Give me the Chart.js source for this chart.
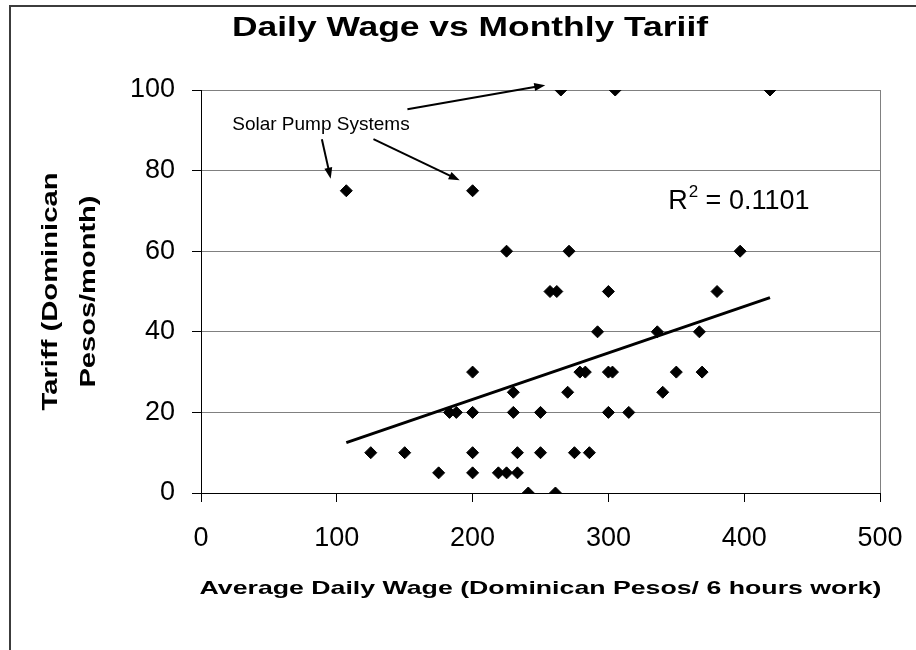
<!DOCTYPE html>
<html>
<head>
<meta charset="utf-8">
<script src="https://cdn.jsdelivr.net/npm/chart.js@4.4.1/dist/chart.umd.min.js"></script>
<style>
    html, body { margin: 0; padding: 0; background: #fff; overflow: hidden; }
    canvas { display: block; }
</style>
</head>
<body>
<canvas id="mychart" width="916" height="650"></canvas>
<script>
'use strict';

// one entry per household: average daily wage and monthly tariff (Dominican pesos)
var wages = [107, 200, 225, 200, 230, 183, 188, 200, 230, 250,
             125, 150, 200, 233, 250, 175, 200, 219, 225, 233,
             241, 261, 265, 305, 419, 271, 397, 257, 262, 300,
             380, 292, 336, 367, 279, 283, 300, 303, 350, 369,
             270, 340, 300, 315, 275, 286];
var tariffs = [75, 75, 60, 30, 25, 20, 20, 20, 20, 20,
               10, 10, 10, 10, 10, 5, 5, 5, 5, 5,
               0, 0, 100, 100, 100, 60, 60, 50, 50, 50,
               50, 40, 40, 40, 30, 30, 30, 30, 30, 30,
               25, 25, 20, 20, 10, 10];

// linear trendline ends, as drawn in the original
var trendWage = [107, 419];
var trendTariff = [12.5, 48.5];

var xTicks = [0, 100, 200, 300, 400, 500];
var yTicks = [0, 20, 40, 60, 80, 100];

var titleText = 'Daily Wage vs Monthly Tariif';
var xTitle = 'Average Daily Wage (Dominican Pesos/ 6 hours work)';
var yTitle = ['Tariff (Dominican', 'Pesos/month)'];

// callout, in data units
var noteText = 'Solar Pump Systems';
var noteAt = [23, 91.3];
var noteArrows = [[89, 87.8, 95.5, 78], [127, 87.8, 190.5, 77.6], [152, 95.2, 253.5, 101.2]];
var r2Value = '0.1101';
var r2At = [344, 72.3];

var FONT = '"Liberation Sans", Arial, sans-serif';

var points = wages.map(function(w, i) { return {x: w, y: tariffs[i]}; });
var trendline = trendWage.map(function(w, i) { return {x: w, y: trendTariff[i]}; });

// draw text centred on (cx, cy), stretched along its run to a given length
function fitText(ctx, text, cx, cy, font, len, angle) {
    ctx.save();
    ctx.font = font;
    ctx.textAlign = 'center';
    ctx.textBaseline = 'middle';
    ctx.translate(cx, cy);
    if (angle) ctx.rotate(angle);
    ctx.scale(len / ctx.measureText(text).width, 1);
    ctx.fillText(text, 0, 0);
    ctx.restore();
}

function arrow(ctx, x1, y1, x2, y2) {
    var a = Math.atan2(y2 - y1, x2 - x1);
    var c = Math.cos(a), s = Math.sin(a);
    ctx.beginPath();
    ctx.moveTo(x1, y1);
    ctx.lineTo(x2 - 8 * c, y2 - 8 * s);
    ctx.stroke();
    ctx.beginPath();
    ctx.moveTo(x2, y2);
    ctx.lineTo(x2 - 11 * c + 4 * s, y2 - 11 * s - 4 * c);
    ctx.lineTo(x2 - 11 * c - 4 * s, y2 - 11 * s + 4 * c);
    ctx.closePath();
    ctx.fill();
}

var framePlugin = {
    id: 'frame',
    beforeDraw: function(chart) {
        var ctx = chart.ctx;
        ctx.save();
        ctx.fillStyle = '#fff';
        ctx.fillRect(0, 0, chart.width, chart.height);
        ctx.strokeStyle = '#3c3c3c';
        ctx.lineWidth = 2;
        ctx.beginPath();
        ctx.moveTo(10, chart.height);
        ctx.lineTo(10, 6);
        ctx.lineTo(chart.width, 6);
        ctx.stroke();
        ctx.restore();
    }
};

var textPlugin = {
    id: 'texts',
    afterDraw: function(chart) {
        var ctx = chart.ctx;
        var xs = chart.scales.x, ys = chart.scales.y;
        var area = chart.chartArea;
        var midY = (area.top + area.bottom) / 2;
        ctx.save();
        ctx.fillStyle = '#000';
        ctx.strokeStyle = '#000';

        fitText(ctx, titleText, 470, 28, 'bold 28px ' + FONT, 476);
        fitText(ctx, xTitle, (area.left + area.right) / 2, 589, 'bold 19px ' + FONT, 682);
        fitText(ctx, yTitle[0], 51, midY, 'bold 22px ' + FONT, 238, -Math.PI / 2);
        fitText(ctx, yTitle[1], 89, midY, 'bold 22px ' + FONT, 192, -Math.PI / 2);

        ctx.font = '19px ' + FONT;
        ctx.textAlign = 'left';
        ctx.textBaseline = 'middle';
        ctx.fillText(noteText, xs.getPixelForValue(noteAt[0]), ys.getPixelForValue(noteAt[1]));

        ctx.lineWidth = 2;
        noteArrows.forEach(function(a) {
            arrow(ctx, xs.getPixelForValue(a[0]), ys.getPixelForValue(a[1]),
                  xs.getPixelForValue(a[2]), ys.getPixelForValue(a[3]));
        });

        var rx = xs.getPixelForValue(r2At[0]), ry = ys.getPixelForValue(r2At[1]);
        ctx.font = '27px ' + FONT;
        ctx.fillText('R', rx, ry);
        var rw = ctx.measureText('R').width;
        ctx.font = '17px ' + FONT;
        ctx.fillText('2', rx + rw + 1, ry - 9);
        var sw = ctx.measureText('2').width;
        ctx.font = '27px ' + FONT;
        ctx.fillText(' = ' + r2Value, rx + rw + sw + 1, ry);
        ctx.restore();
    }
};

function gridColor(edge) {
    return function(c) {
        return c.tick && c.tick.value === edge ? '#808080' : 'rgba(0,0,0,0)';
    };
}

var graph = new Chart(document.getElementById('mychart'), {
    type: 'scatter',
    data: {
        datasets: [{
            label: 'Tariff',
            data: points,
            pointStyle: 'rectRot',
            pointRadius: 6,
            pointHoverRadius: 6,
            backgroundColor: '#000',
            borderColor: '#000',
            borderWidth: 1,
        }, {
            type: 'line',
            label: 'Linear trend',
            data: trendline,
            borderColor: '#000',
            borderWidth: 3,
            pointRadius: 0,
            fill: false,
        }],
    },
    options: {
        responsive: false,
        animation: false,
        devicePixelRatio: 1,
        layout: { padding: { left: 10, right: 36, top: 90, bottom: 0 } },
        plugins: {
            legend: { display: false },
            title: { display: false },
            tooltip: { enabled: false },
        },
        scales: {
            x: {
                type: 'linear',
                position: 'bottom',
                min: 0,
                max: 500,
                afterBuildTicks: function(s) { s.ticks = xTicks.map(function(v) { return {value: v}; }); },
                afterFit: function(s) {
                    s.height = 157;
                    s.paddingLeft = 0;
                    s.paddingRight = 0;
                },
                ticks: { font: { family: FONT, size: 27 }, color: '#000', padding: 20, maxRotation: 0 },
                grid: { color: gridColor(500), tickColor: '#000', tickLength: 9, lineWidth: 1 },
                border: { color: '#000', width: 1 },
            },
            y: {
                type: 'linear',
                min: 0,
                max: 100,
                afterBuildTicks: function(s) { s.ticks = yTicks.map(function(v) { return {value: v}; }); },
                afterFit: function(s) { s.width = 191; },
                ticks: { font: { family: FONT, size: 27 }, color: '#000', padding: 17 },
                grid: {
                    color: function(c) { return c.tick && c.tick.value === 0 ? 'rgba(0,0,0,0)' : '#808080'; },
                    tickColor: '#000', tickLength: 9, lineWidth: 1,
                },
                border: { color: '#000', width: 1 },
            },
        },
    },
    plugins: [framePlugin, textPlugin],
});
</script>
</body>
</html>
